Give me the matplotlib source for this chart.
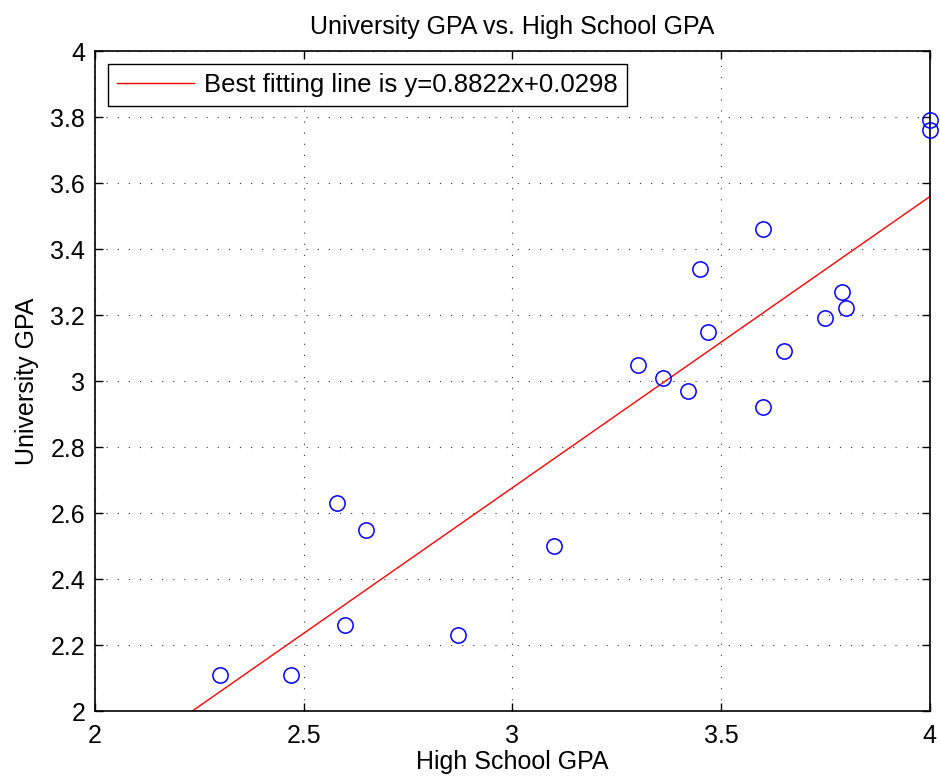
import matplotlib
matplotlib.use("Agg")
import matplotlib.pyplot as plt
import numpy as np

plt.rcParams['font.family'] = ['Liberation Sans', 'DejaVu Sans']

# high school GPA vs university GPA
hs_gpa = [2.30, 2.47, 2.58, 2.65, 2.60, 2.87, 3.10, 3.30, 3.36, 3.42,
          3.45, 3.47, 3.60, 3.60, 3.65, 3.75, 3.79, 3.80, 4.00, 4.00]
uni_gpa = [2.11, 2.11, 2.63, 2.55, 2.26, 2.23, 2.50, 3.05, 3.01, 2.97,
           3.34, 3.15, 3.46, 2.92, 3.09, 3.19, 3.27, 3.22, 3.79, 3.76]
slope = 0.8822
intercept = 0.0298

xticks = [2, 2.5, 3, 3.5, 4]
yticks = [2, 2.2, 2.4, 2.6, 2.8, 3, 3.2, 3.4, 3.6, 3.8, 4]

fig = plt.figure(figsize=(9.4, 7.78), dpi=100)
ax = fig.add_axes([0.101, 0.0861, 0.888, 0.8483])

ax.plot(hs_gpa, uni_gpa, 'o', mfc='none', mec='blue', ms=11, mew=1.1, clip_on=False, zorder=3)
xl = np.array([2.0, 4.0])
ax.plot(xl, slope * xl + intercept, 'r-', lw=1.0,
        label='Best fitting line is y=%.4fx+%.4f' % (slope, intercept))

ax.set_xlim(2, 4)
ax.set_ylim(2, 4)
ax.set_xticks(xticks)
ax.set_xticklabels(['2', '2.5', '3', '3.5', '4'])
ax.set_yticks(yticks)
ax.set_yticklabels(['2', '2.2', '2.4', '2.6', '2.8', '3', '3.2', '3.4', '3.6', '3.8', '4'])
ax.tick_params(direction='in', length=6, width=1, labelsize=18, top=True, right=True)
ax.tick_params(axis='x', pad=9)
ax.tick_params(axis='y', pad=7)
ax.grid(True, color='#333333', linestyle=(0, (1, 9)), linewidth=0.8)
for s in ax.spines.values():
    s.set_linewidth(1.2)

ax.set_xlabel('High School GPA', fontsize=18, labelpad=2)
ax.set_ylabel('University GPA', fontsize=18, labelpad=8)
ax.set_title('University GPA vs. High School GPA', fontsize=18, pad=12)

leg = ax.legend(loc='upper left', fontsize=18.5, fancybox=False, framealpha=1,
                edgecolor='black', borderaxespad=0.5, handlelength=3.0,
                borderpad=0.35, handletextpad=0.4)
leg.get_frame().set_linewidth(1.0)

fig.savefig('out.png', dpi=100)
